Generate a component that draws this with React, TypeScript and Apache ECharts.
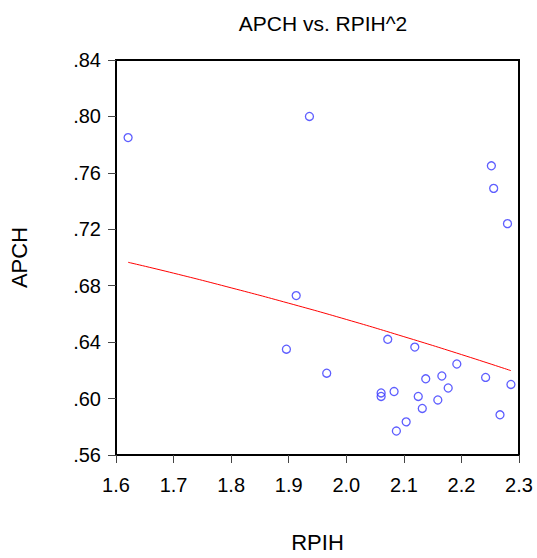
import React, { useEffect, useRef } from "react";
import * as echarts from "echarts";

const titleText = "APCH vs. RPIH^2";
const xName = "RPIH";
const yName = "APCH";

const rpih = [
  1.621, 1.936, 2.252, 2.256, 2.28, 1.913, 1.896, 2.072, 2.119, 1.966, 2.192, 2.138, 2.166,
  2.242, 2.286, 2.177, 2.0605, 2.0605, 2.083, 2.125, 2.159, 2.132, 2.104, 2.087, 2.267,
];
const apch = [
  0.785, 0.8, 0.765, 0.749, 0.724, 0.673, 0.635, 0.642, 0.6365, 0.618, 0.6245, 0.614, 0.616,
  0.615, 0.61, 0.6075, 0.604, 0.6015, 0.605, 0.6015, 0.599, 0.593, 0.5835, 0.577, 0.5885,
];

const fitX = [1.621, 1.7, 1.8, 1.9, 2.0, 2.1, 2.2, 2.286];
const fitY = [0.6966, 0.6889, 0.6785, 0.6676, 0.6561, 0.6439, 0.6312, 0.6198];

const FONT = "'Liberation Sans', Arial, sans-serif";

export default function App() {
  const ref = useRef<HTMLDivElement>(null);
  useEffect(() => {
    if (!ref.current) return;
    const chart = echarts.init(ref.current, undefined, { renderer: "svg" });
    chart.setOption({
      animation: false,
      backgroundColor: "#fff",
      title: {
        text: titleText,
        left: 318,
        textAlign: "center",
        top: 8,
        textStyle: { fontFamily: FONT, fontSize: 21, fontWeight: "normal", color: "#000" },
      },
      grid: {
        left: 116,
        right: 18,
        top: 60,
        bottom: 94,
        show: true,
        borderColor: "#000",
        borderWidth: 2,
        backgroundColor: "#fff",
      },
      xAxis: {
        type: "value",
        min: 1.6,
        max: 2.3,
        interval: 0.1,
        name: xName,
        nameLocation: "middle",
        nameGap: 76,
        nameTextStyle: { fontFamily: FONT, fontSize: 22, color: "#000" },
        axisLine: { show: true, lineStyle: { color: "#000", width: 2 } },
        axisTick: { show: true, inside: false, length: 8, lineStyle: { color: "#444", width: 1 } },
        splitLine: { show: false },
        axisLabel: {
          margin: 20,
          fontFamily: FONT,
          fontSize: 20,
          color: "#000",
          formatter: (v: number) => v.toFixed(1),
        },
      },
      yAxis: {
        type: "value",
        min: 0.56,
        max: 0.84,
        interval: 0.04,
        name: yName,
        nameLocation: "middle",
        nameGap: 86,
        nameTextStyle: { fontFamily: FONT, fontSize: 22, color: "#000" },
        axisLine: { show: true, lineStyle: { color: "#000", width: 2 } },
        axisTick: { show: true, inside: false, length: 8, lineStyle: { color: "#444", width: 1 } },
        splitLine: { show: false },
        axisLabel: {
          margin: 15,
          fontFamily: FONT,
          fontSize: 20,
          color: "#000",
          formatter: (v: number) => v.toFixed(2).replace(/^0/, ""),
        },
      },
      series: [
        {
          type: "line",
          data: fitX.map((x, i) => [x, fitY[i]]),
          showSymbol: false,
          symbol: "none",
          smooth: true,
          lineStyle: { color: "#ff0000", width: 1 },
          z: 2,
        },
        {
          type: "scatter",
          data: rpih.map((x, i) => [x, apch[i]]),
          symbol: "circle",
          symbolSize: 8,
          itemStyle: { color: "rgba(0,0,0,0)", borderColor: "#3535ff", borderWidth: 1.3 },
          z: 3,
        },
      ],
    });
    return () => chart.dispose();
  }, []);
  return (
    <div
      ref={ref}
      style={{ position: "fixed", left: 0, top: 0, width: 537, height: 558 }}
    />
  );
}
